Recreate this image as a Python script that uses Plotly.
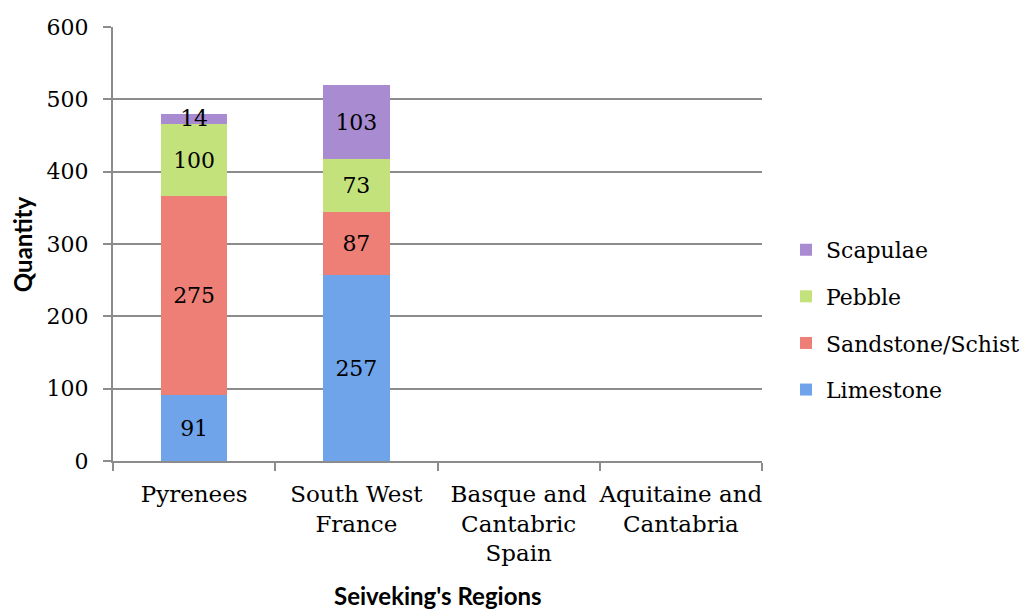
import plotly.graph_objects as go

# Seiveking's regions and the count of each material found there
regions = ["Pyrenees", "South West<br>France", "Basque and<br>Cantabric<br>Spain", "Aquitaine and<br>Cantabria"]
limestone = [91, 257, None, None]
sandstone_schist = [275, 87, None, None]
pebble = [100, 73, None, None]
scapulae = [14, 103, None, None]

series = [
    ("Limestone", limestone, "#6fa3ea"),
    ("Sandstone/Schist", sandstone_schist, "#ee7f77"),
    ("Pebble", pebble, "#c3e27c"),
    ("Scapulae", scapulae, "#a88bd0"),
]

serif = "DejaVu Serif"
sans = "Lato"

fig = go.Figure()
for i, (name, vals, color) in enumerate(series):
    fig.add_trace(go.Bar(
        name=name,
        x=regions,
        y=vals,
        marker=dict(color=color, line=dict(width=0)),
        text=[str(v) if v is not None else "" for v in vals],
        textposition="inside",
        insidetextanchor="middle",
        constraintext="none",
        textfont=dict(family=serif, size=22, color="black"),
        insidetextfont=dict(family=serif, size=22, color="black"),
        legendgroup=name,
        legendrank=len(series) - i,
        hoverinfo="skip",
    ))

fig.update_layout(
    barmode="stack",
    bargap=0.59,
    width=1035,
    height=610,
    margin=dict(l=113, r=273, t=27, b=149, autoexpand=False),
    paper_bgcolor="white",
    plot_bgcolor="white",
    font=dict(family=serif, size=22, color="black"),
    showlegend=True,
    legend=dict(
        x=1.037, xanchor="left",
        y=0.325, yanchor="middle",
        traceorder="grouped",
        tracegroupgap=15,
        font=dict(family=serif, size=22, color="black"),
        itemwidth=30,
        bgcolor="rgba(0,0,0,0)",
    ),
    xaxis=dict(
        type="category",
        tickson="boundaries",
        ticks="outside",
        ticklen=8,
        tickwidth=2,
        tickcolor="#8c8c8c",
        tickangle=0,
        automargin=False,
        ticklabelstandoff=11,
        showline=True,
        linecolor="#8c8c8c",
        linewidth=2,
        showgrid=False,
        tickfont=dict(family=serif, size=23, color="black"),
    ),
    yaxis=dict(
        range=[0, 600],
        dtick=100,
        ticks="outside",
        ticklen=8,
        tickwidth=2,
        tickcolor="#8c8c8c",
        automargin=False,
        showline=True,
        linecolor="#8c8c8c",
        linewidth=2,
        showgrid=True,
        gridcolor="#8c8c8c",
        gridwidth=2,
        zeroline=False,
        ticklabelstandoff=10,
        tickfont=dict(family=serif, size=22, color="black"),
    ),
    annotations=[
        dict(text="<b>Seiveking's Regions</b>", xref="paper", yref="paper",
             x=0.5, y=-0.311, xanchor="center", yanchor="middle", showarrow=False,
             font=dict(family=sans, size=24, color="black")),
        dict(text="<b>Quantity</b>", xref="paper", yref="paper",
             x=-0.140, y=0.5, xanchor="center", yanchor="middle", textangle=-90, showarrow=False,
             font=dict(family=sans, size=24, color="black")),
    ],
)

fig.write_html("out.html")
